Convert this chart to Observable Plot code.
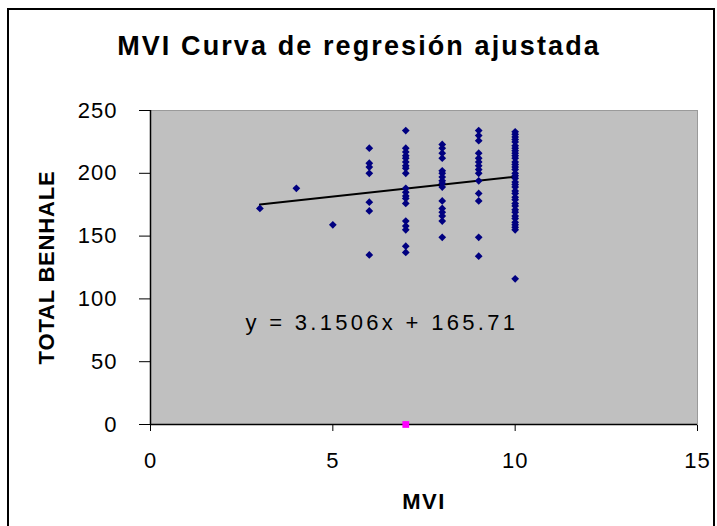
<!DOCTYPE html>
<html><head><meta charset="utf-8">
<script src="https://cdn.jsdelivr.net/npm/d3@7"></script>
<script src="https://cdn.jsdelivr.net/npm/@observablehq/plot@0.6"></script>
<style>
html,body{margin:0;padding:0;background:#fff;}
#wrap{position:relative;width:717px;height:526px;overflow:hidden;background:#fff;}
#border{position:absolute;left:7px;top:8px;width:708px;height:540px;border:2px solid #000;box-sizing:border-box;pointer-events:none;}
svg{display:block;}
</style></head><body><div id="wrap"></div>
<script>
// ---- data ----
const chartTitle = "MVI Curva de regresión ajustada";
const xLabel = "MVI";
const yLabel = "TOTAL BENHALE";
const equationText = "y = 3.1506x + 165.71";
const slope = 3.1506;
const intercept = 165.71;
const fitRange = [3, 10];

const xTicks = [0, 5, 10, 15];
const yTicks = [0, 50, 100, 150, 200, 250];

const mviLevels = [3, 4, 5, 6, 7, 8, 9, 10];
const benhaleMvi3 = [172];
const benhaleMvi4 = [188];
const benhaleMvi5 = [159];
const benhaleMvi6 = [220, 208, 205, 200, 177, 170, 135];
const benhaleMvi7 = [234, 220, 217, 214, 212, 209, 206, 204, 200, 188, 185, 182, 180, 176, 162, 158, 155, 142, 137];
const benhaleMvi8 = [223, 220, 216, 212, 202, 200, 197, 194, 192, 189, 178, 172, 169, 166, 162, 149];
const benhaleMvi9 = [234, 230, 226, 216, 212, 209, 206, 203, 200, 194, 184, 178, 149, 134];
const benhaleMvi10 = [233, 231, 229, 227, 225, 222, 220, 218, 216, 214, 212, 209, 207, 205, 203, 200, 198, 196, 193, 191, 189, 186, 184, 181, 179, 176, 174, 171, 169, 166, 164, 161, 159, 157, 155, 116];

const markerMvi = [7];
const markerTotal = [0];

// ---- build tables ----
const columns = [benhaleMvi3, benhaleMvi4, benhaleMvi5, benhaleMvi6, benhaleMvi7, benhaleMvi8, benhaleMvi9, benhaleMvi10];
const points = [];
mviLevels.forEach((m, i) => columns[i].forEach(v => points.push({mvi: m, total: v})));
const markers = markerMvi.map((m, i) => ({mvi: m, total: markerTotal[i]}));
const fitLine = fitRange.map(x => ({mvi: x, total: slope * x + intercept}));

const chart = Plot.plot({
  width: 717, height: 526,
  marginLeft: 150, marginRight: 20, marginTop: 110, marginBottom: 102,
  x: {domain: [0, 15], ticks: xTicks, tickSize: 7, tickPadding: 21, label: null},
  y: {domain: [0, 250], ticks: yTicks, tickSize: 11, tickPadding: 22, label: null},
  style: {fontFamily: "'Liberation Sans', Arial, sans-serif", fontSize: "22px", color: "#000", background: "transparent"},
  marks: [
    Plot.frame({fill: "#c0c0c0", stroke: "#9a9a9a", strokeWidth: 1}),
    Plot.ruleY([0], {stroke: "#000", strokeWidth: 1.5}),
    Plot.ruleX([0], {stroke: "#000", strokeWidth: 1.5}),
    Plot.line(fitLine, {x: "mvi", y: "total", stroke: "#000", strokeWidth: 2}),
    Plot.dot(points, {x: "mvi", y: "total", symbol: "diamond2", r: 3.5, fill: "#000080", stroke: null}),
    Plot.dot(markers, {x: "mvi", y: "total", symbol: "square", r: 3.8, fill: "#ff00ff", stroke: null}),
    Plot.text([equationText], {text: d => d, frameAnchor: "left", dx: 95, dy: 55, textAnchor: "start", fontSize: 22}),
    Plot.text([yLabel], {text: d => d, frameAnchor: "left", dx: -104, rotate: -90, textAnchor: "middle", fontWeight: "bold", fontSize: 22}),
    Plot.text([xLabel], {text: d => d, frameAnchor: "bottom", dy: 84, fontWeight: "bold", fontSize: 22}),
    Plot.text([chartTitle], {text: d => d, frameAnchor: "top", dx: -65, dy: -75, fontWeight: "bold", fontSize: 27})
  ]
});

d3.select(chart).selectAll("text").each(function() {
  const t = this.textContent;
  let ls = "1px";
  if (t === chartTitle) ls = "2.1px";
  else if (t === equationText) ls = "3.3px";
  else if (t === yLabel) ls = "0.8px";
  else if (t === xLabel) ls = "1.5px";
  this.setAttribute("letter-spacing", ls);
});

const wrap = document.getElementById("wrap");
wrap.appendChild(chart);
const border = document.createElement("div");
border.id = "border";
wrap.appendChild(border);
</script></body></html>
